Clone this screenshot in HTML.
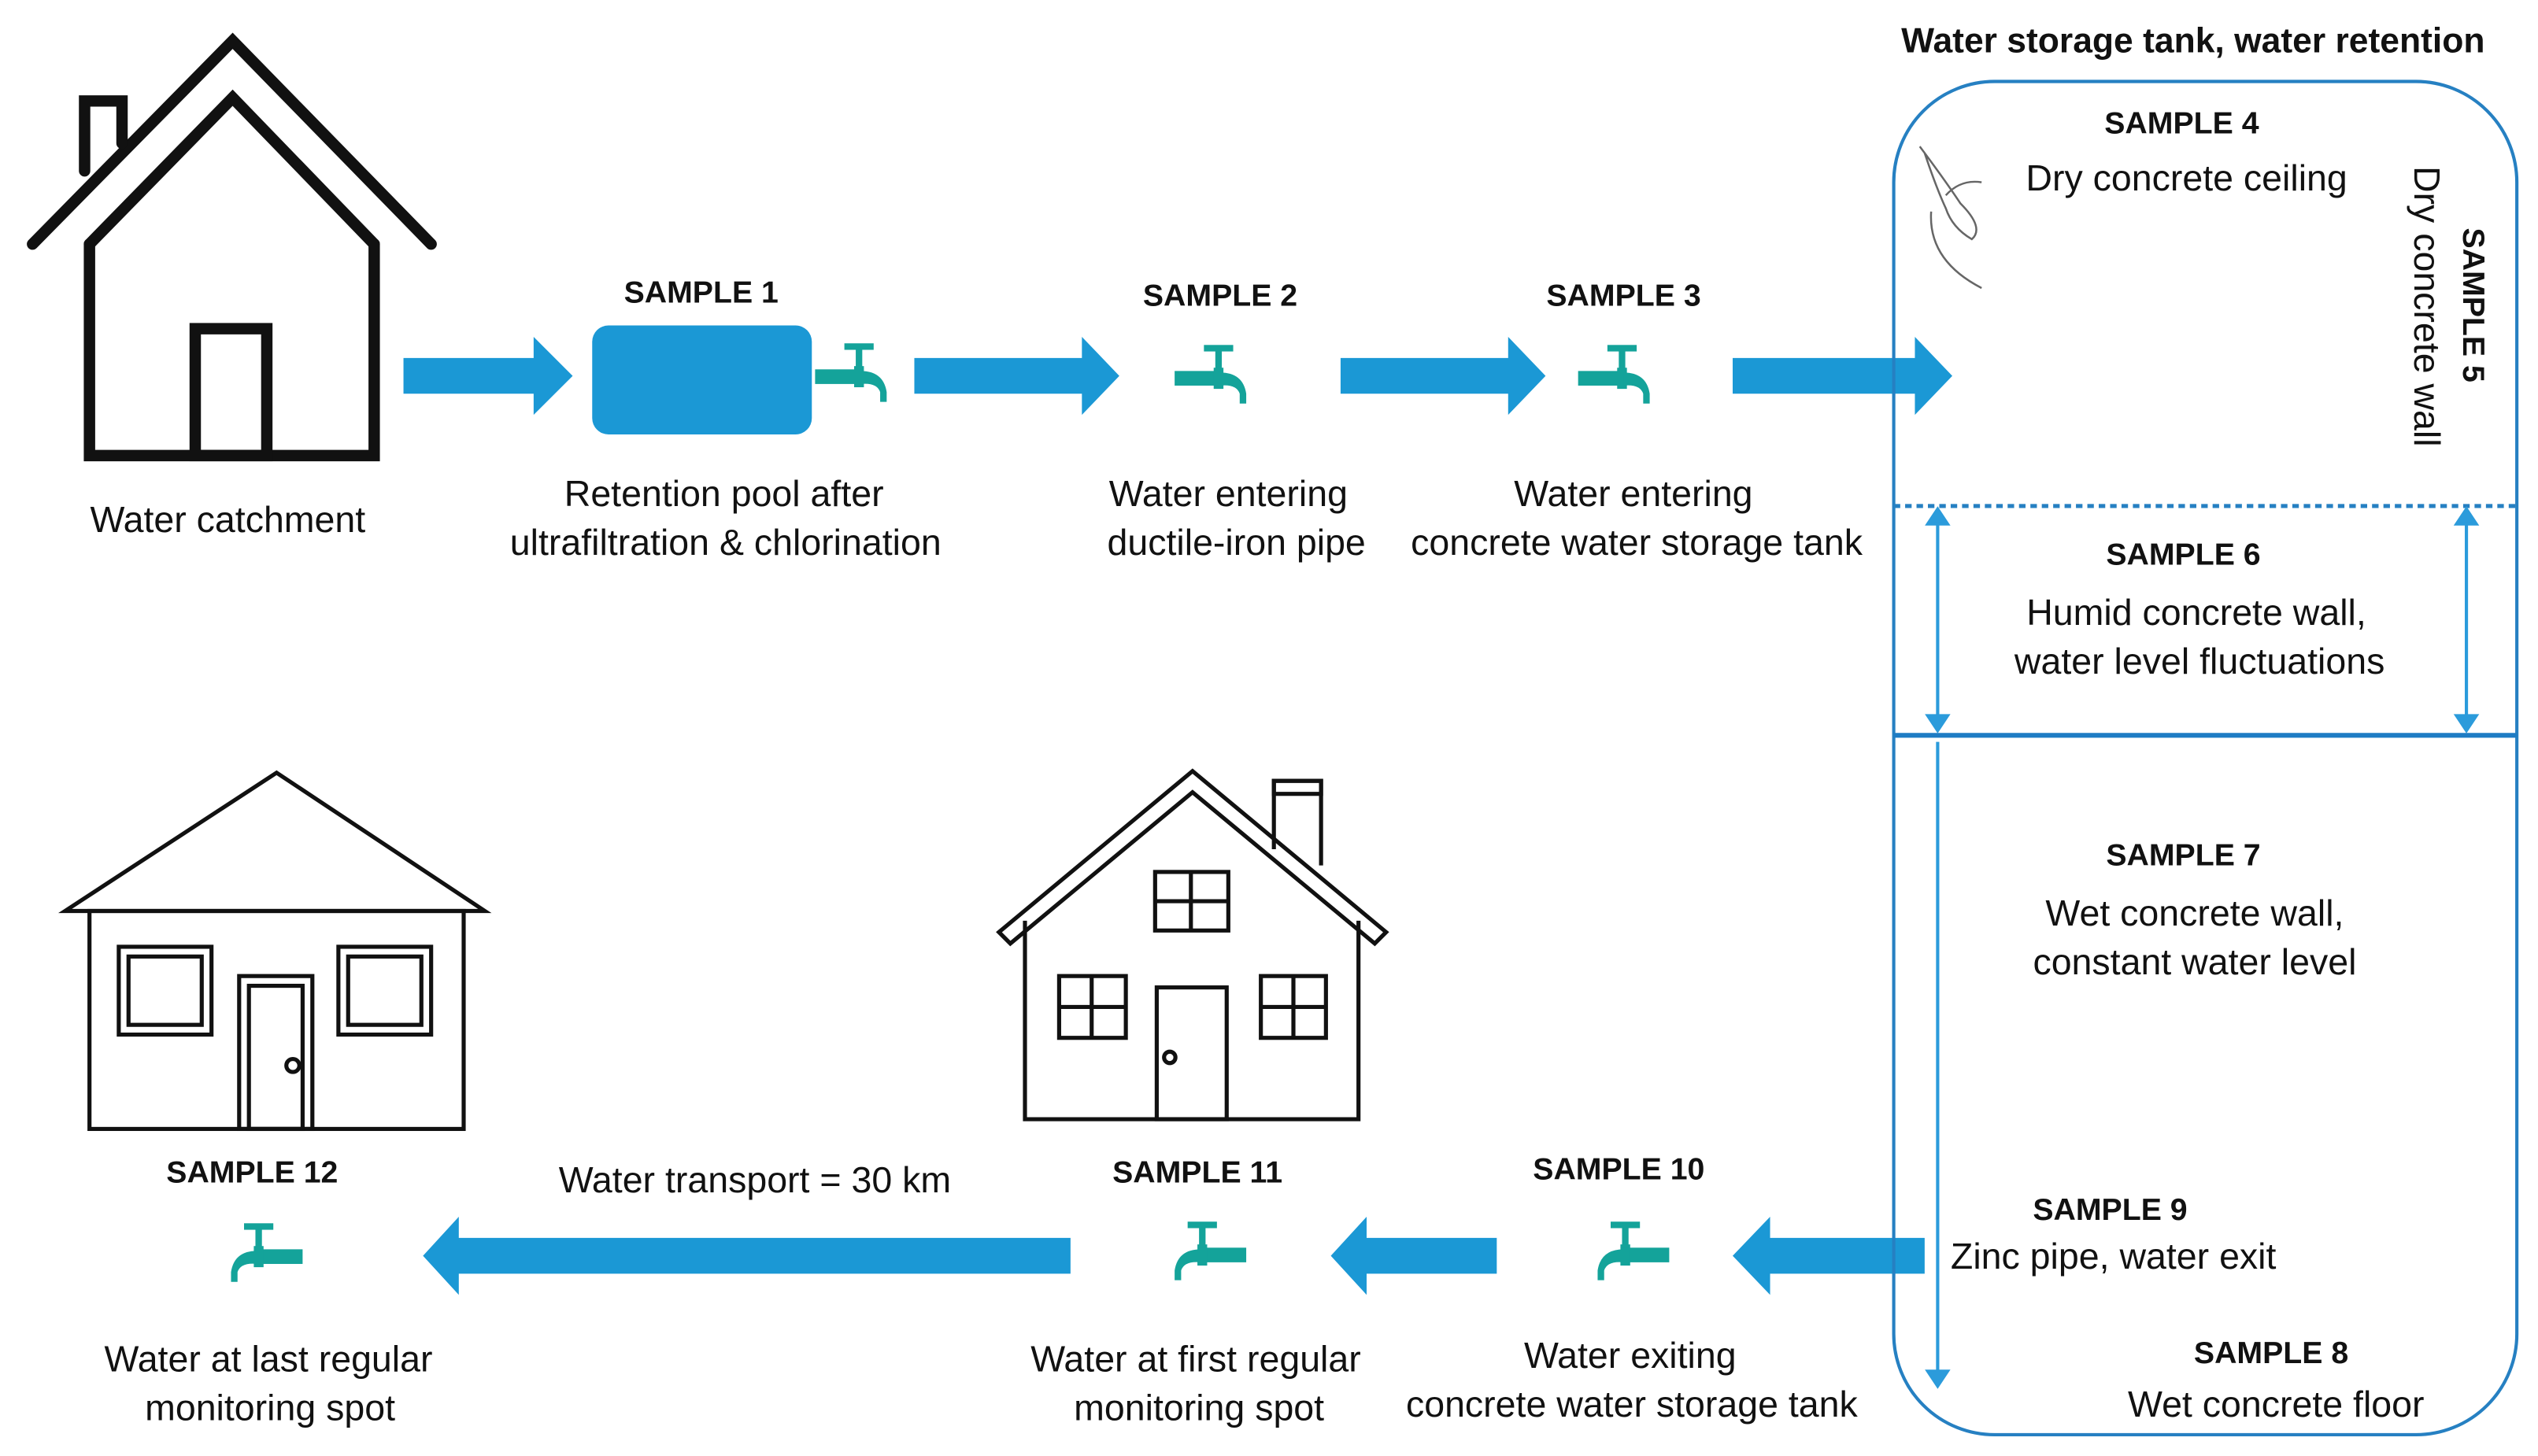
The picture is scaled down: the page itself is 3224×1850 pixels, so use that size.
<!DOCTYPE html>
<html><head><meta charset="utf-8"><style>
html,body{margin:0;padding:0;background:#fff}
svg{display:block}
text{font-family:"Liberation Sans",sans-serif;fill:#111}
.b{font-weight:bold;font-size:19px}
.t{font-size:22.5px}
</style></head><body>
<svg width="3224" height="1850" viewBox="0 0 1560 895" xmlns="http://www.w3.org/2000/svg">
<defs>
<g id="tap" fill="#14A39A">
<rect x="-22" y="-4" width="26" height="9"/>
<rect x="2" y="-6" width="6" height="13"/>
<rect x="3" y="-18" width="4" height="14"/>
<rect x="-4" y="-20" width="18" height="4"/>
<path d="M6 -3 Q20 -3 22 10 L22 16 L18 16 L18 10 Q16 4 6 5 Z"/>
</g>
<g id="tapL" fill="#14A39A">
<rect x="-4" y="-4" width="26" height="9"/>
<rect x="-8" y="-6" width="6" height="13"/>
<rect x="-7" y="-18" width="4" height="14"/>
<rect x="-14" y="-20" width="18" height="4"/>
<path d="M-6 -3 Q-20 -3 -22 10 L-22 16 L-18 16 L-18 10 Q-16 4 -6 5 Z"/>
</g>
</defs>

<g fill="none" stroke="#111" stroke-width="7" stroke-linejoin="miter" stroke-linecap="round">
<polyline points="20,150 143,25 265,150"/>
<polyline points="55,150 143,60 230,150"/>
<polyline points="55,150 55,280 230,280 230,150"/>
<polyline points="52,105 52,62 75,62 75,88"/>
<rect x="120" y="202" width="44" height="78"/>
</g>

<g fill="#1B98D5">
<path d="M248 220 H328 V207 L352 231 L328 255 V242 H248 Z"/>
<path d="M562 220 H665 V207 L688 231 L665 255 V242 H562 Z"/>
<path d="M824 220 H927 V207 L950 231 L927 255 V242 H824 Z"/>
<path d="M1065 220 H1177 V207 L1200 231 L1177 255 V242 H1065 Z"/>
<path d="M1183 761 H1088 V748 L1065 772 L1088 796 V783 H1183 Z"/>
<path d="M920 761 H840 V748 L818 772 L840 796 V783 H920 Z"/>
<path d="M658 761 H282 V748 L260 772 L282 796 V783 H658 Z"/>
<rect x="364" y="200" width="135" height="67" rx="10"/>
</g>

<use href="#tap" x="523" y="231"/>
<use href="#tap" x="744" y="232"/>
<use href="#tap" x="992" y="232"/>
<use href="#tapL" x="164" y="772"/>
<use href="#tapL" x="744" y="771"/>
<use href="#tapL" x="1004" y="771"/>

<rect x="1164" y="50" width="383" height="832" rx="62" fill="none" stroke="#2680C2" stroke-width="2"/>
<line x1="1164" y1="311" x2="1547" y2="311" stroke="#2680C2" stroke-width="2.5" stroke-dasharray="4,3"/>
<line x1="1164" y1="452" x2="1547" y2="452" stroke="#1E7CC4" stroke-width="3"/>
<g stroke="#2B9BDB" stroke-width="2" fill="#2B9BDB">
<line x1="1191" y1="318" x2="1191" y2="442"/>
<line x1="1516" y1="318" x2="1516" y2="442"/>
<line x1="1191" y1="456" x2="1191" y2="846"/>
<path d="M1185 322 L1191 313 L1197 322 Z"/>
<path d="M1185 440 L1191 449 L1197 440 Z"/>
<path d="M1510 322 L1516 313 L1522 322 Z"/>
<path d="M1510 440 L1516 449 L1522 440 Z"/>
<path d="M1185 843 L1191 852 L1197 843 Z"/>
</g>
<path d="M1180 90 Q1195 110 1205 125 Q1220 140 1212 147 Q1200 140 1196 128 Q1190 115 1183 94 M1187 130 Q1185 160 1218 177 M1196 120 Q1205 110 1218 112" fill="none" stroke="#666" stroke-width="1.2"/>

<g fill="none" stroke="#111" stroke-width="2.5">
<polygon points="40,560 170,475 298,560"/>
<rect x="55" y="560" width="230" height="134"/>
<rect x="73" y="582" width="57" height="54"/><rect x="79" y="588" width="45" height="42"/>
<rect x="208" y="582" width="57" height="54"/><rect x="214" y="588" width="45" height="42"/>
<rect x="147" y="600" width="45" height="94"/><rect x="153" y="606" width="33" height="88"/>
<circle cx="180" cy="655" r="4"/>
<polygon points="614,573 733,474 852,573 845,580 733,487 621,580"/>
<polyline points="783,522 783,480 812,480 812,532"/>
<rect x="783" y="480" width="29" height="8"/>
<polyline points="630,566 630,688 835,688 835,566"/>
<rect x="710" y="536" width="45" height="36"/><line x1="732" y1="536" x2="732" y2="572"/><line x1="710" y1="554" x2="755" y2="554"/>
<rect x="651" y="600" width="41" height="38"/><line x1="671" y1="600" x2="671" y2="638"/><line x1="651" y1="619" x2="692" y2="619"/>
<rect x="775" y="600" width="40" height="38"/><line x1="795" y1="600" x2="795" y2="638"/><line x1="775" y1="619" x2="815" y2="619"/>
<rect x="711" y="607" width="43" height="81"/>
<circle cx="719" cy="650" r="3.5"/>
</g>

<g text-anchor="middle">
<text class="t" x="140" y="327">Water catchment</text>
<text class="b" x="431" y="186">SAMPLE 1</text>
<text class="t" x="445" y="311">Retention pool after</text>
<text class="t" x="446" y="341">ultrafiltration &amp; chlorination</text>
<text class="b" x="750" y="188">SAMPLE 2</text>
<text class="t" x="755" y="311">Water entering</text>
<text class="t" x="760" y="341">ductile-iron pipe</text>
<text class="b" x="998" y="188">SAMPLE 3</text>
<text class="t" x="1004" y="311">Water entering</text>
<text class="t" x="1006" y="341">concrete water storage tank</text>
<text class="b" x="1348" y="32" style="font-size:21.5px">Water storage tank, water retention</text>
<text class="b" x="1341" y="82">SAMPLE 4</text>
<text class="t" x="1344" y="117">Dry concrete ceiling</text>
<text class="b" x="1342" y="347">SAMPLE 6</text>
<text class="t" x="1350" y="384">Humid concrete wall,</text>
<text class="t" x="1352" y="414">water level fluctuations</text>
<text class="b" x="1342" y="532">SAMPLE 7</text>
<text class="t" x="1349" y="569">Wet concrete wall,</text>
<text class="t" x="1349" y="599">constant water level</text>
<text class="b" x="1297" y="750">SAMPLE 9</text>
<text class="b" x="1396" y="838">SAMPLE 8</text>
<text class="t" x="1399" y="871">Wet concrete floor</text>
<text class="b" x="155" y="727">SAMPLE 12</text>
<text class="t" x="165" y="843">Water at last regular</text>
<text class="t" x="166" y="873">monitoring spot</text>
<text class="t" x="464" y="733">Water transport = 30  km</text>
<text class="b" x="736" y="727">SAMPLE 11</text>
<text class="t" x="735" y="843">Water at first regular</text>
<text class="t" x="737" y="873">monitoring spot</text>
<text class="b" x="995" y="725">SAMPLE 10</text>
<text class="t" x="1002" y="841">Water exiting</text>
<text class="t" x="1003" y="871">concrete water storage tank</text>
</g>
<text class="t" x="1199" y="780">Zinc pipe, water exit</text>
<text class="t" transform="translate(1484,102) rotate(90)">Dry concrete wall</text>
<text class="b" transform="translate(1514,140) rotate(90)">SAMPLE 5</text>
</svg>
</body></html>
